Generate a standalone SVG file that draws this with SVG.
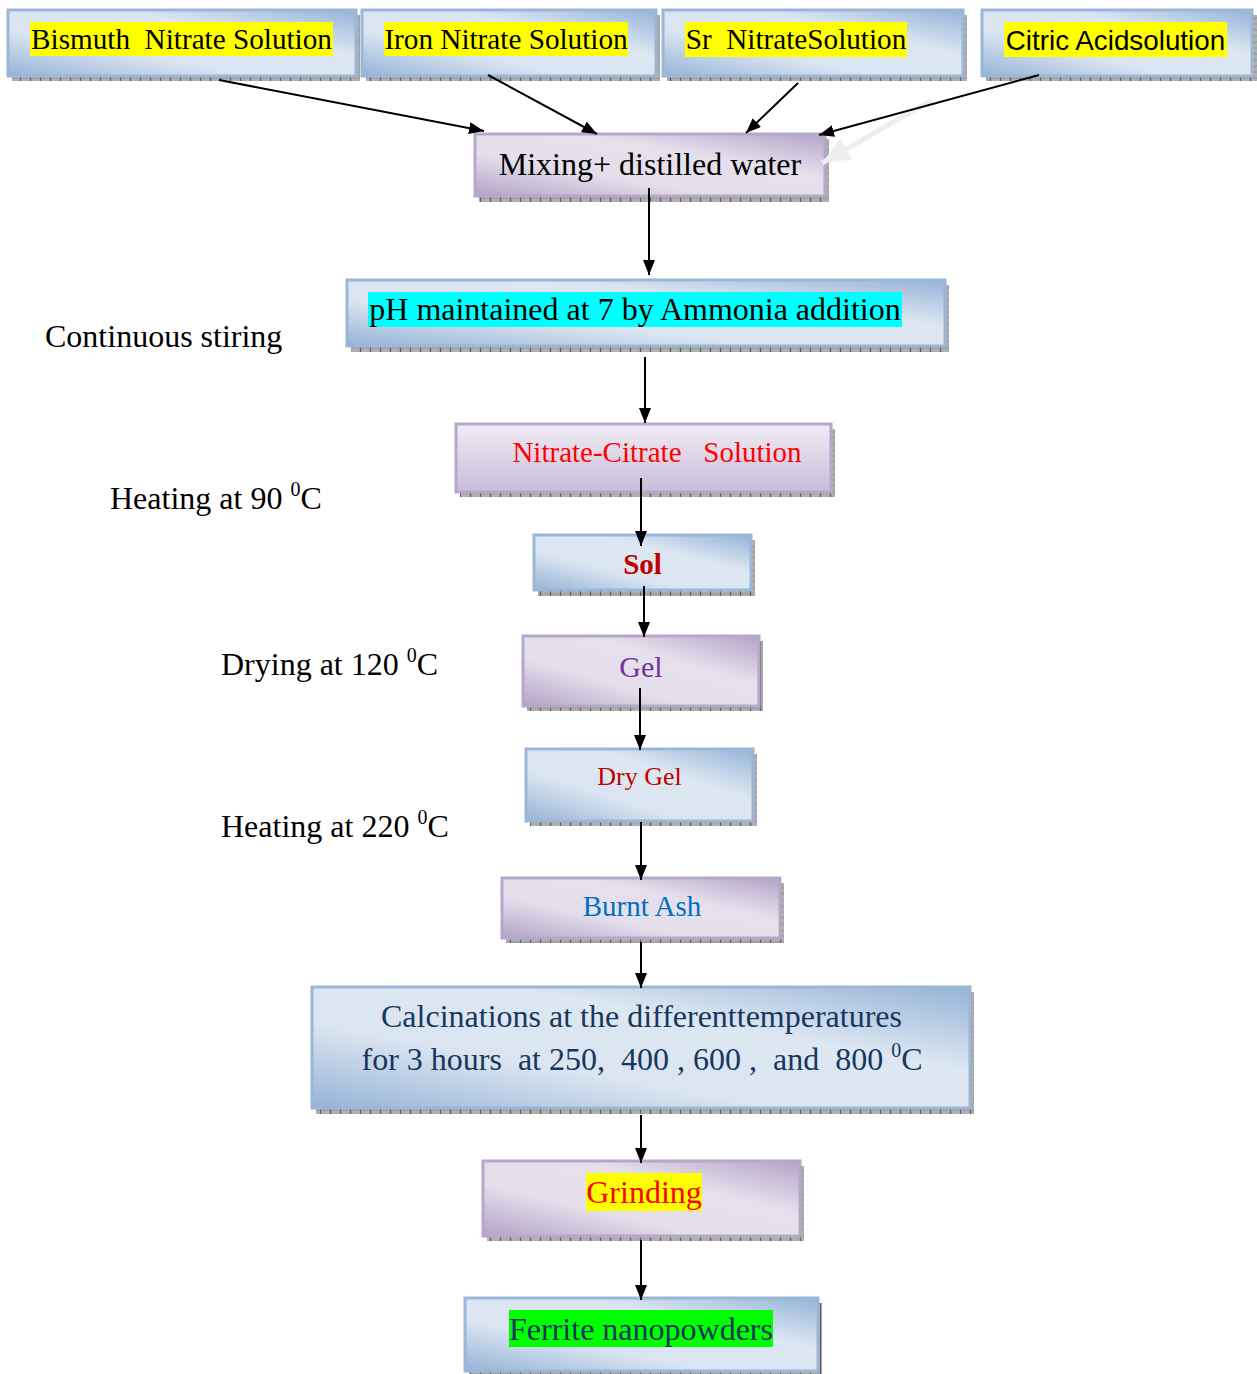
<svg xmlns="http://www.w3.org/2000/svg" width="1257" height="1374" viewBox="0 0 1257 1374">
<defs>
<linearGradient id="gb" x1="0" y1="1" x2="1" y2="0">
<stop offset="0" stop-color="#95b3d7"/>
<stop offset="0.35" stop-color="#dbe5f1"/>
<stop offset="0.65" stop-color="#dde7f2"/>
<stop offset="1" stop-color="#95b3d7"/>
</linearGradient>
<linearGradient id="gp" x1="0" y1="1" x2="1" y2="0">
<stop offset="0" stop-color="#b3a2c7"/>
<stop offset="0.35" stop-color="#e5dfec"/>
<stop offset="0.65" stop-color="#e6e0ed"/>
<stop offset="1" stop-color="#b3a2c7"/>
</linearGradient>
<linearGradient id="gv" x1="0" y1="0" x2="0" y2="1">
<stop offset="0" stop-color="#f0ecf4"/>
<stop offset="1" stop-color="#c9bcd9"/>
</linearGradient>
<pattern id="sh" width="10" height="6" patternUnits="userSpaceOnUse">
<rect width="10" height="6" fill="#a2a2a2"/>
<path d="M2 2h7M2 4h7" stroke="#c4c4c4" stroke-width="0.8"/>
<path d="M0.5 0V6" stroke="#5f5f5f" stroke-width="1"/>
</pattern>
<marker id="ah" markerWidth="15" markerHeight="12" refX="15" refY="6" orient="auto" markerUnits="userSpaceOnUse">
<path d="M0,0 L15,6 L0,12 z" fill="#000"/>
</marker>
<marker id="ahf" markerWidth="28" markerHeight="24" refX="28" refY="12" orient="auto" markerUnits="userSpaceOnUse">
<path d="M0,0 L28,12 L0,24 z" fill="#eeeeee"/>
</marker>
<style>
.shadow{fill:url(#sh);}
.blue{fill:url(#gb);stroke:#9ab6d9;stroke-width:3;}
.purple{fill:url(#gp);stroke:#b7a7cb;stroke-width:3;}
.pv{fill:url(#gv);stroke:#b7a7cb;stroke-width:3;}
.serif{font-family:"Liberation Serif","Times New Roman",serif;}
.sans{font-family:"Liberation Sans",Arial,sans-serif;}
.mid{text-anchor:middle;}
.conn line{stroke:#000;stroke-width:2;marker-end:url(#ah);}
text{white-space:pre;}
</style>
</defs>
<rect width="1257" height="1374" fill="#ffffff"/>

<g id="bismuth">
<rect class="shadow" x="12" y="15" width="348" height="66"/>
<rect class="blue" x="8" y="10" width="348" height="66"/>
<rect x="30" y="22" width="303" height="34" fill="#ffff00"/>
<text class="serif mid" x="181.5" y="49" font-size="29.2" fill="#000">Bismuth  Nitrate Solution</text>
</g>
<g id="iron">
<rect class="shadow" x="366" y="15" width="294" height="66"/>
<rect class="blue" x="362" y="10" width="294" height="66"/>
<rect x="384" y="22" width="244" height="34" fill="#ffff00"/>
<text class="serif mid" x="506" y="49" font-size="29.2" fill="#000">Iron Nitrate Solution</text>
</g>
<g id="sr">
<rect class="shadow" x="667" y="15" width="300" height="66"/>
<rect class="blue" x="663" y="10" width="300" height="66"/>
<rect x="685" y="22" width="222" height="35" fill="#ffff00"/>
<text class="serif mid" x="796" y="49" font-size="29.2" fill="#000">Sr  NitrateSolution</text>
</g>
<g id="citric">
<rect class="shadow" x="986" y="15" width="271" height="66"/>
<rect class="blue" x="982" y="10" width="270" height="66"/>
<rect x="1004" y="22" width="223" height="35" fill="#ffff00"/>
<text class="sans mid" x="1115.5" y="50" font-size="27.8" fill="#000">Citric Acidsolution</text>
</g>
<g id="mixing">
<rect class="shadow" x="479" y="139" width="350" height="63"/>
<rect class="purple" x="475" y="134" width="350" height="62"/>
<text class="serif mid" x="650" y="175" font-size="32" fill="#000">Mixing+ distilled water</text>
</g>
<g id="ph">
<rect class="shadow" x="351" y="285" width="598" height="67"/>
<rect class="blue" x="347" y="280" width="598" height="66"/>
<rect x="368" y="292" width="534" height="35" fill="#00ffff"/>
<text class="serif mid" x="635" y="320" font-size="32" fill="#000">pH maintained at 7 by Ammonia addition</text>
</g>
<g id="nitrate-citrate">
<rect class="shadow" x="460" y="429" width="375" height="68"/>
<rect class="pv" x="456" y="424" width="375" height="68"/>
<text class="serif mid" x="657" y="462" font-size="29" fill="#ff0000">Nitrate-Citrate   Solution</text>
</g>
<g id="sol">
<rect class="shadow" x="538" y="540" width="217" height="56"/>
<rect class="blue" x="534" y="535" width="217" height="55"/>
<text class="serif mid" x="642.5" y="574" font-size="29" font-weight="bold" fill="#c00000">Sol</text>
</g>
<g id="gel">
<rect class="shadow" x="527" y="641" width="236" height="70"/>
<rect class="purple" x="523" y="636" width="236" height="70"/>
<text class="serif mid" x="641" y="677" font-size="30" fill="#7030a0">Gel</text>
</g>
<g id="dry-gel">
<rect class="shadow" x="530" y="754" width="227" height="72"/>
<rect class="blue" x="526" y="749" width="227" height="72"/>
<text class="serif mid" x="639.5" y="785" font-size="26" fill="#c00000">Dry Gel</text>
</g>
<g id="burnt-ash">
<rect class="shadow" x="506" y="883" width="278" height="60"/>
<rect class="purple" x="502" y="878" width="278" height="60"/>
<text class="serif mid" x="642" y="916" font-size="29" fill="#0070c0">Burnt Ash</text>
</g>
<g id="calcinations">
<rect class="shadow" x="316" y="992" width="658" height="122"/>
<rect class="blue" x="312" y="987" width="658" height="121"/>
<text class="serif mid" x="641.5" y="1027" font-size="32" fill="#17375e">Calcinations at the differenttemperatures</text>
<text class="serif mid" x="642" y="1070" font-size="32" fill="#17375e">for 3 hours  at 250,  400 , 600 ,  and  800 <tspan font-size="20" dy="-13">0</tspan><tspan dy="13">C</tspan></text>
</g>
<g id="grinding">
<rect class="shadow" x="487" y="1166" width="317" height="75"/>
<rect class="purple" x="483" y="1161" width="317" height="75"/>
<rect x="586" y="1173" width="116" height="38" fill="#ffff00"/>
<text class="serif mid" x="644" y="1203" font-size="32" fill="#ff0000">Grinding</text>
</g>
<g id="ferrite">
<rect class="shadow" x="469" y="1303" width="353" height="73"/>
<rect class="blue" x="465" y="1298" width="353" height="73"/>
<rect x="509" y="1310" width="264" height="37" fill="#00ff00"/>
<text class="serif mid" x="641" y="1340" font-size="32" fill="#17365d">Ferrite nanopowders</text>
</g>

<g id="labels">
<text class="serif" x="45" y="347" font-size="32" fill="#000">Continuous stiring</text>
<text class="serif" x="110" y="509" font-size="32" fill="#000">Heating at 90 <tspan font-size="20" dy="-13">0</tspan><tspan dy="13">C</tspan></text>
<text class="serif" x="221" y="675" font-size="32" fill="#000">Drying at 120 <tspan font-size="20" dy="-13">0</tspan><tspan dy="13">C</tspan></text>
<text class="serif" x="221" y="837" font-size="32" fill="#000">Heating at 220 <tspan font-size="20" dy="-13">0</tspan><tspan dy="13">C</tspan></text>
</g>

<g id="connectors" class="conn">
<path d="M932,100 L822,163" stroke="#eeeeee" stroke-width="5" fill="none" marker-end="url(#ahf)"/>
<line x1="219" y1="80" x2="484" y2="131"/>
<line x1="488" y1="75" x2="597" y2="134"/>
<line x1="798" y1="83" x2="746" y2="133"/>
<line x1="1039" y1="75" x2="819" y2="135"/>
<line x1="649" y1="188" x2="649" y2="275"/>
<line x1="645" y1="357" x2="645" y2="423"/>
<line x1="641" y1="478" x2="641" y2="546"/>
<line x1="644" y1="586" x2="644" y2="637"/>
<line x1="640" y1="688" x2="640" y2="750"/>
<line x1="641" y1="822" x2="641" y2="880"/>
<line x1="641" y1="942" x2="641" y2="988"/>
<line x1="641" y1="1115" x2="641" y2="1163"/>
<line x1="641" y1="1240" x2="641" y2="1300"/>
</g>
</svg>
